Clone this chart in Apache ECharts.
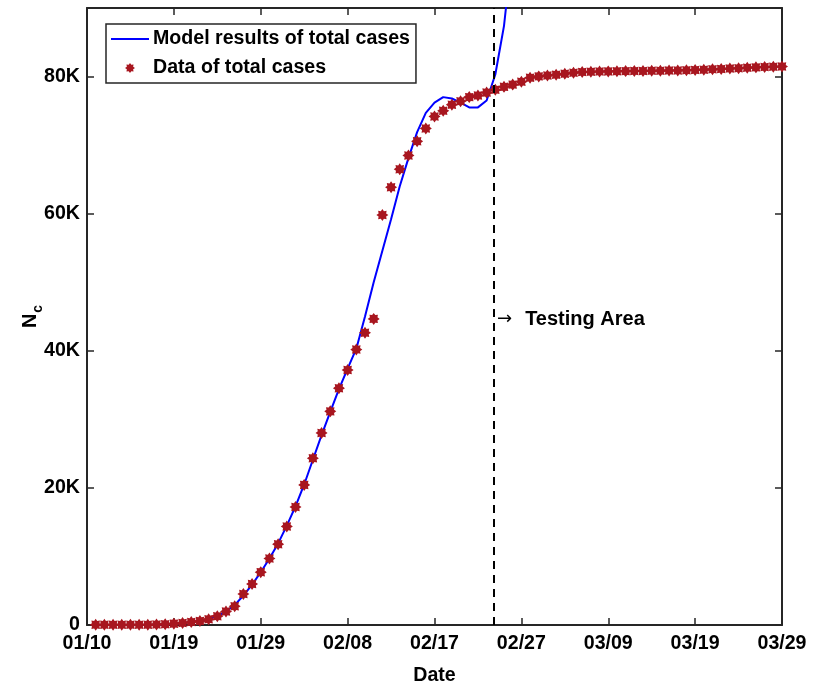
<!DOCTYPE html>
<html>
<head>
<meta charset="utf-8">
<script src="https://cdn.jsdelivr.net/npm/echarts@6/dist/echarts.min.js"></script>
<style>html,body{margin:0;padding:0;background:#fff}#c{width:814px;height:691px}</style>
</head>
<body>
<div id="c"></div>
<script>
// Tick labels of the date axis (one per 10 day-steps)
var dateTicks = ['01/10','01/19','01/29','02/08','02/17','02/27','03/09','03/19','03/29'];
// Daily observed total cases (01/10 ... 03/29)
var dataCases = [
  41,41,41,41,41,41,41,62,121,198,
  291,440,571,830,1287,1975,2744,4515,5974,7711,
  9692,11791,14380,17205,20438,24324,28018,31161,34546,37198,
  40171,42638,44653,59804,63851,66492,68500,70548,72436,74185,
  75000,75900,76400,77000,77250,77658,78064,78497,78824,79251,
  79824,80026,80151,80270,80409,80552,80651,80695,80735,80754,
  80778,80793,80813,80824,80844,80860,80881,80894,80928,80967,
  81008,81054,81093,81171,81218,81285,81340,81394,81439,81470
];
// Model results of total cases (daily, starting the same day)
var modelCases = [
  0,0,0,0,0,0,20,50,100,180,
  280,420,580,850,1300,2000,2900,4300,5900,7700,
  9700,11900,14500,17300,20500,24100,27700,31100,34400,37400,
  40300,45000,50000,54600,59200,64000,68100,71900,74700,76200,
  77000,76800,76200,75500,75500,76500,80300,87400,99000
];
var testingStart = 46.8;           // day index of dashed line
var testingLabelPos = [47.2, 44600];

var seriesNames = ['Model results of total cases', 'Data of total cases'];

function starPath(n, r1, r2) {
  var p = '';
  for (var i = 0; i < 2 * n; i++) {
    var r = (i % 2) ? r2 : r1;
    var a = Math.PI * i / n - Math.PI / 2;
    p += (i ? 'L' : 'M') + (r * Math.cos(a)).toFixed(3) + ',' + (r * Math.sin(a)).toFixed(3);
  }
  return 'path://' + p + 'Z';
}
var star = starPath(8, 10, 6.8);
var lineIcon = 'path://M0,0L0.01,0L0.01,0.01L0,0.01Z M0,4L38,4L38,6L0,6Z M37.99,9.99L38,9.99L38,10L37.99,10Z';

var font = 'Liberation Sans, Arial, sans-serif';
var axisColor = '#262626';
var markerColor = '#A8161F';
var fs = 19.6;

var chart = echarts.init(document.getElementById('c'), null, {renderer: 'canvas'});
var xBase = {
  type: 'value', min: 0, max: 80, interval: 10,
  axisLine: {show: true, onZero: false, lineStyle: {color: axisColor, width: 2}},
  axisTick: {show: true, inside: true, length: 7, lineStyle: {color: axisColor, width: 1.5}},
  splitLine: {show: false}
};
var yBase = {
  type: 'value', min: 0, max: 90000, interval: 20000,
  axisLine: {show: true, onZero: false, lineStyle: {color: axisColor, width: 2}},
  axisTick: {show: true, inside: true, length: 7, lineStyle: {color: axisColor, width: 1.5}},
  splitLine: {show: false}
};

chart.setOption({
  animation: false,
  backgroundColor: '#fff',
  textStyle: {fontFamily: font},
  grid: {left: 87, right: 32, top: 8, bottom: 64, show: false},
  legend: {
    data: [
      {name: seriesNames[0], icon: lineIcon, itemStyle: {color: '#0000FF'}},
      {name: seriesNames[1], icon: star, itemStyle: {color: markerColor}}
    ],
    orient: 'vertical',
    left: 106, top: 24,
    padding: [5, 6, 5, 5],
    itemGap: 9,
    itemWidth: 38, itemHeight: 10,
    backgroundColor: '#fff',
    borderColor: axisColor, borderWidth: 1.5,
    textStyle: {fontFamily: font, fontWeight: 'bold', fontSize: fs, color: '#000', padding: [0,0,0,-1]}
  },
  xAxis: [
    Object.assign({}, xBase, {
      position: 'bottom',
      name: 'Date', nameLocation: 'middle', nameGap: 41,
      nameTextStyle: {fontFamily: font, fontWeight: 'bold', fontSize: fs, color: '#000'},
      axisLabel: {
        show: true, margin: 9, color: '#000', fontFamily: font, fontWeight: 'bold', fontSize: fs,
        formatter: function (v) { return dateTicks[Math.round(v / 10)] || ''; }
      }
    }),
    Object.assign({}, xBase, {position: 'top', axisLabel: {show: false}})
  ],
  yAxis: [
    Object.assign({}, yBase, {
      position: 'left',
      name: '{n|N}{s|c}', nameLocation: 'middle', nameGap: 42, nameRotate: 90,
      nameMoveOverlap: false,
      nameTextStyle: {
        rich: {
          n: {fontFamily: font, fontWeight: 'bold', fontSize: 20, color: '#000'},
          s: {fontFamily: font, fontWeight: 'bold', fontSize: 14, color: '#000', padding: [16, 0, 0, 1]}
        }
      },
      axisLabel: {
        show: true, margin: 7, color: '#000', fontFamily: font, fontWeight: 'bold', fontSize: fs,
        showMaxLabel: false,
        formatter: function (v) { return v === 0 ? '0' : (v / 1000) + 'K'; }
      }
    }),
    Object.assign({}, yBase, {position: 'right', axisLabel: {show: false}})
  ],
  series: [
    {
      name: seriesNames[0], type: 'line', clip: true,
      data: modelCases.map(function (v, i) { return [i + 1, v]; }),
      showSymbol: false, symbol: 'none', smooth: false,
      lineStyle: {color: '#0000FF', width: 2},
      itemStyle: {color: '#0000FF'},
      z: 3,
      markLine: {
        silent: true, symbol: 'none',
        label: {show: false},
        lineStyle: {color: '#000', type: [8, 6], width: 2},
        data: [{xAxis: testingStart}]
      }
    },
    {
      name: seriesNames[1], type: 'scatter',
      data: dataCases.map(function (v, i) { return [i + 1, v]; }),
      symbol: star, symbolSize: 12,
      itemStyle: {color: markerColor, opacity: 1},
      z: 4
    },
    {
      name: 'annotation', type: 'scatter',
      data: [testingLabelPos],
      symbolSize: 0,
      itemStyle: {color: '#000'},
      label: {
        show: true, position: 'right', distance: 0, color: '#000', opacity: 1,
        textBorderWidth: 0,
        formatter: '{a|\u2192}{t|Testing Area}',
        rich: {
          a: {fontFamily: 'DejaVu Sans', fontSize: 18, color: '#000', textBorderWidth: 0},
          t: {fontFamily: font, fontWeight: 'bold', fontSize: 20, color: '#000', textBorderWidth: 0, padding: [0,0,0,13]}
        }
      },
      emphasis: {disabled: true}
    }
  ]
});
</script>
</body>
</html>
